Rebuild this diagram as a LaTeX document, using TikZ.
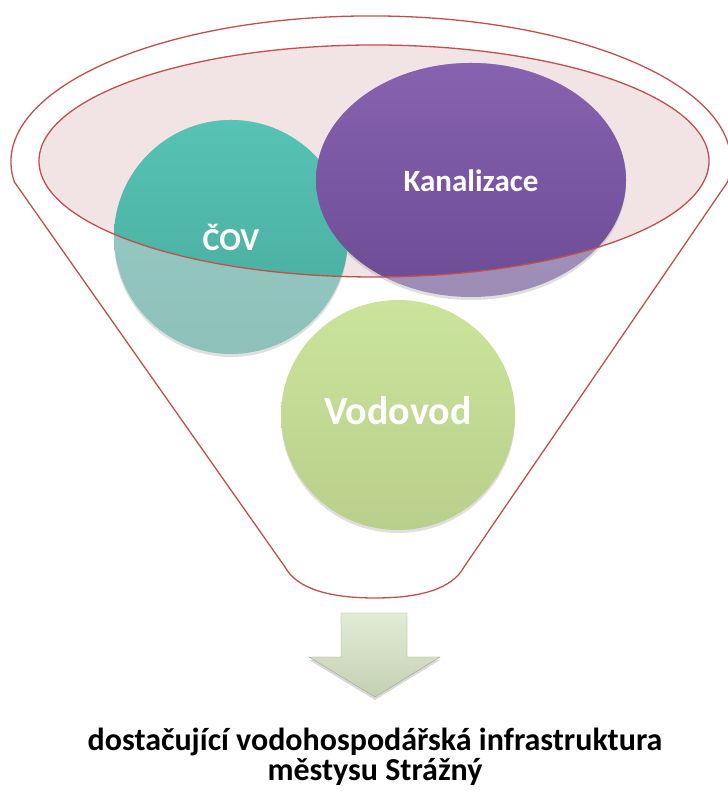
\documentclass[tikz,border=0pt]{standalone}
\usepackage{fontspec}
\setmainfont{Carlito}
\usetikzlibrary{shapes.geometric,shadows}
\definecolor{funnelred}{HTML}{C0504D}
\definecolor{rimpink}{HTML}{F2E4E4}
\definecolor{tealtop}{HTML}{56C3B5}
\definecolor{tealbot}{HTML}{48A99B}
\definecolor{tealfadetop}{HTML}{9ACCC6}
\definecolor{tealfadebot}{HTML}{8DC1BA}
\definecolor{purptop}{HTML}{8762B0}
\definecolor{purpbot}{HTML}{6C4B94}
\definecolor{purpfadetop}{HTML}{AA9BC4}
\definecolor{purpfadebot}{HTML}{9D8CB5}
\definecolor{greentop}{HTML}{CBE49A}
\definecolor{greenbot}{HTML}{B9CF8C}
\definecolor{arrowtop}{HTML}{E3ECD6}
\definecolor{arrowbot}{HTML}{C3D0B2}
\begin{document}
\begin{tikzpicture}[
  x=1pt, y=1pt,
  every node/.style={font=\bfseries},
  ball/.style={ellipse, inner sep=0pt, minimum height=234, drop shadow={opacity=0.25, shadow xshift=0pt, shadow yshift=-3pt}},
  balltext/.style={text=white},
  funnel/.style={draw=funnelred, line width=1.3pt},
]
\useasboundingbox (0,0) rectangle (727,791);

% outer funnel
\draw[funnel] (14.4,609) arc[start angle=187.9, end angle=-7.9, x radius=360, y radius=146]
  -- (464,224) .. controls (452,202) and (420,193) .. (375,193)
  .. controls (330,193) and (297,202) .. (285,224) -- cycle;

% inner rim
\fill[rimpink] (374,630) ellipse[x radius=335, y radius=116];

\node[ball, minimum width=234, top color=tealfadetop, bottom color=tealfadebot] (cov) at (231,554) {};
\node[ball, minimum width=310, top color=purpfadetop, bottom color=purpfadebot] (kanal) at (471,611) {};
\node[ball, minimum width=234, minimum height=230, top color=greentop, bottom color=greenbot] (vodo) at (398,376) {};

\begin{scope}
  \clip (374,630) ellipse[x radius=335, y radius=116];
  \shade[top color=tealtop, bottom color=tealbot] (cov.center) circle[radius=117];
  \shade[top color=purptop, bottom color=purpbot] (kanal.center) ellipse[x radius=155, y radius=117];
\end{scope}
\draw[funnel] (374,630) ellipse[x radius=335, y radius=116];

\node[balltext, font=\fontsize{32}{32}\selectfont\bfseries] at (cov.center) {ČOV};
\node[balltext, font=\fontsize{31}{31}\selectfont\bfseries] at ([yshift=-1]kanal.center) {Kanalizace};
\node[balltext, font=\fontsize{40}{40}\selectfont\bfseries] at ([yshift=4]vodo.center) {Vodovod};

% arrow
\shade[top color=arrowtop, bottom color=arrowbot, draw=arrowbot!80!black, line width=0.4pt,
  drop shadow={opacity=0.3, shadow xshift=0pt, shadow yshift=-3pt}]
  (341,178) -- (407,178) -- (407,134) -- (440,134) -- (375,94) -- (309,134) -- (341,134) -- cycle;

\node[align=center, font=\fontsize{32}{30}\selectfont\bfseries] (result) at (375,34)
  {dostačující vodohospodářská infrastruktura\\městysu Strážný};
\end{tikzpicture}
\end{document}
